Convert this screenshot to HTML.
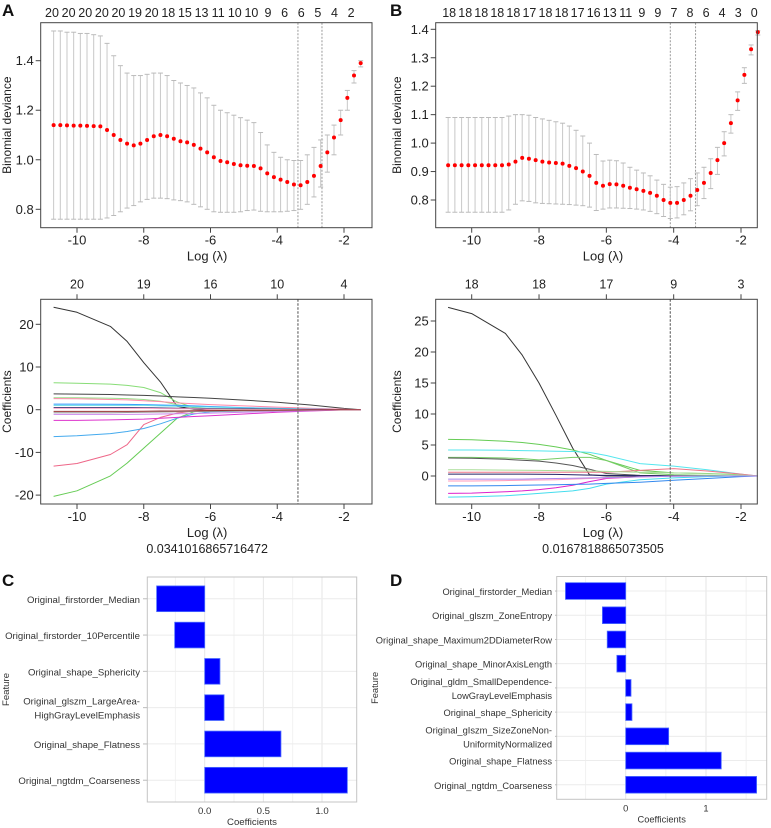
<!DOCTYPE html>
<html><head><meta charset="utf-8">
<style>
html,body{margin:0;padding:0;background:#fff;}
svg{display:block;font-family:"Liberation Sans","DejaVu Sans",sans-serif;}
</style></head>
<body>
<svg id="fig" width="771" height="828" viewBox="0 0 771 828" xmlns="http://www.w3.org/2000/svg"></svg>
<script>
// ---------- DATA ----------
const devStart = -10.7, devStep = 0.2;
const devMeanA = [1.14,1.14,1.139,1.138,1.138,1.137,1.136,1.135,1.12,1.10,1.08,1.065,1.058,1.065,1.08,1.095,1.10,1.095,1.085,1.075,1.07,1.06,1.045,1.03,1.01,0.995,0.99,0.983,0.978,0.976,0.975,0.965,0.945,0.93,0.92,0.91,0.90,0.897,0.91,0.935,0.975,1.03,1.09,1.16,1.25,1.34,1.39];
const devUpperA = [1.52,1.52,1.515,1.515,1.51,1.51,1.505,1.50,1.47,1.42,1.38,1.35,1.34,1.34,1.345,1.35,1.35,1.34,1.32,1.31,1.30,1.29,1.27,1.25,1.22,1.20,1.19,1.18,1.17,1.16,1.15,1.11,1.06,1.03,1.01,1.00,0.997,0.997,1.02,1.05,1.08,1.10,1.14,1.20,1.28,1.36,1.40];
const devLowerA = [0.76,0.76,0.76,0.76,0.76,0.76,0.76,0.76,0.765,0.775,0.79,0.805,0.815,0.83,0.84,0.845,0.845,0.843,0.838,0.835,0.83,0.82,0.81,0.80,0.79,0.788,0.788,0.788,0.79,0.795,0.797,0.792,0.79,0.79,0.79,0.792,0.795,0.80,0.82,0.85,0.89,0.95,1.02,1.10,1.20,1.31,1.375];
const devMeanB = [0.922,0.922,0.922,0.922,0.922,0.922,0.922,0.922,0.922,0.925,0.935,0.948,0.945,0.94,0.935,0.932,0.93,0.928,0.92,0.912,0.90,0.885,0.86,0.85,0.856,0.855,0.85,0.843,0.838,0.832,0.825,0.815,0.80,0.79,0.79,0.80,0.815,0.835,0.86,0.895,0.94,1.0,1.07,1.15,1.24,1.33,1.39];
const devUpperB = [1.09,1.09,1.09,1.09,1.09,1.09,1.09,1.09,1.09,1.095,1.10,1.10,1.098,1.09,1.085,1.08,1.075,1.07,1.06,1.045,1.025,1.0,0.96,0.937,0.94,0.938,0.93,0.915,0.905,0.895,0.885,0.87,0.855,0.845,0.847,0.86,0.875,0.895,0.915,0.945,0.985,1.04,1.10,1.18,1.265,1.345,1.395];
const devLowerB = [0.757,0.757,0.757,0.757,0.757,0.757,0.757,0.757,0.757,0.765,0.785,0.797,0.795,0.79,0.788,0.787,0.786,0.785,0.784,0.782,0.78,0.775,0.763,0.768,0.772,0.772,0.771,0.77,0.768,0.765,0.76,0.752,0.742,0.735,0.737,0.748,0.762,0.78,0.805,0.84,0.89,0.955,1.035,1.115,1.21,1.31,1.38];
const countsA = ["20","20","20","20","20","19","20","18","15","13","11","10","10","9","6","6","5","4","2"];
const countsB = ["18","18","18","18","18","17","18","18","17","16","13","11","9","9","7","8","6","4","3","0"];
const pathTopA = ["20","19","16","10","4"];
const pathTopB = ["18","18","17","9","3"];
const lambdaTextA = "0.0341016865716472";
const lambdaTextB = "0.0167818865073505";
const knots = [-10.7,-10,-9,-8.5,-8,-7.5,-7,-6.5,-6,-5,-4,-3,-2,-1.5];
const pathColorsA = ["#333333","#66cc55","#ee6688","#44aaee","#88dd77","#444444","#99dd88","#ff88aa","#3399ff","#66e0e8","#222266","#dd33cc","#cc88ee","#999999","#ffaacc","#993333"];
const pathValsA = [
 [24,22.8,19.5,16,11,6.5,0.8,0.1,0,0,0,0,0,0],
 [-20.3,-19,-15.5,-12.5,-9,-5.5,-2,-0.5,0,0,0,0,0,0],
 [-13.2,-12.6,-10.5,-8.2,-3.5,-1.8,-0.8,-0.3,0,0,0,0,0,0],
 [-6.3,-6.1,-5.6,-5.1,-4.4,-3.3,-2,-1,-0.5,-0.3,-0.15,-0.05,0,0],
 [6.3,6.2,6.0,5.7,5.2,4.0,1.8,0.5,0.1,0,0,0,0,0],
 [3.7,3.65,3.55,3.45,3.35,3.2,3.0,2.85,2.7,2.25,1.75,1.1,0.3,0],
 [2.8,2.8,2.7,2.6,2.4,2.0,1.2,0.5,0.2,0.1,0,0,0,0],
 [2.6,2.55,2.4,2.3,2.1,1.9,1.6,1.4,1.2,0.9,0.6,0.35,0.1,0],
 [1.3,1.3,1.28,1.25,1.2,1.1,1.0,0.9,0.75,0.5,0.3,0.15,0.03,0],
 [1.0,1.0,1.0,1.0,1.0,0.9,0.8,0.7,0.6,0.4,0.25,0.1,0.02,0],
 [0.5,0.5,0.5,0.5,0.45,0.4,0.35,0.3,0.25,0.2,0.12,0.05,0.02,0],
 [-2.5,-2.5,-2.4,-2.3,-2.2,-2.0,-1.8,-1.6,-1.4,-1.0,-0.6,-0.3,-0.05,0],
 [-1.1,-1.1,-1.1,-1.1,-1.05,-1.0,-0.95,-0.9,-0.8,-0.6,-0.4,-0.2,-0.05,0],
 [-0.7,-0.7,-0.7,-0.65,-0.6,-0.55,-0.5,-0.45,-0.4,-0.3,-0.2,-0.1,0,0],
 [0.3,0.3,0.3,0.3,0.3,0.25,0.2,0.2,0.15,0.1,0.05,0,0,0],
 [-0.4,-0.4,-0.4,-0.4,-0.35,-0.3,-0.3,-0.25,-0.2,-0.15,-0.1,-0.05,0,0]
];
const pathColorsB = ["#333333","#66cc55","#55e6ee","#77cc66","#555555","#ee7788","#aadd99","#dd22cc","#44ddee","#3388ee","#222266","#ff99bb","#aa88ee"];
const pathValsB = [
 [27.2,26.2,23,19.5,15,9.8,4.5,0.2,0,0,0,0,0,0],
 [5.9,5.85,5.6,5.4,5.1,4.7,4.2,3.5,2.5,0.9,0.5,0.4,0.2,0],
 [4.2,4.2,4.15,4.1,4.05,4.0,3.95,3.8,3.3,2.0,1.6,1.0,0.3,0],
 [3.0,3.0,2.9,2.8,2.6,2.8,3.0,3.0,2.5,0.5,0.2,0.1,0,0],
 [2.9,2.85,2.7,2.55,2.4,2.1,1.7,1.1,0.4,0.1,0.05,0,0,0],
 [0.6,0.6,0.6,0.6,0.6,0.6,0.6,0.6,0.6,0.9,1.2,0.8,0.3,0],
 [1.0,1.0,0.95,0.92,0.9,0.87,0.83,0.8,0.75,0.6,0.5,0.35,0.15,0],
 [-2.8,-2.75,-2.55,-2.4,-2.2,-1.9,-1.5,-0.9,-0.4,-0.1,0,0,0,0],
 [-3.4,-3.35,-3.2,-3.0,-2.8,-2.6,-2.4,-2.0,-1.3,-0.6,-0.3,-0.1,0,0],
 [-1.6,-1.6,-1.55,-1.5,-1.45,-1.4,-1.35,-1.3,-1.2,-1.0,-0.7,-0.4,-0.1,0],
 [0.3,0.3,0.3,0.3,0.28,0.25,0.2,0.15,0.1,0.05,0.02,0,0,0],
 [-0.8,-0.8,-0.75,-0.7,-0.65,-0.6,-0.5,-0.4,-0.3,-0.15,-0.05,0,0,0],
 [-0.5,-0.5,-0.5,-0.5,-0.45,-0.4,-0.35,-0.3,-0.25,-0.15,-0.05,0,0,0]
];
const featuresC = ["Original_firstorder_Median","Original_firstorder_10Percentile","Original_shape_Sphericity","Original_glszm_LargeArea-|HighGrayLevelEmphasis","Original_shape_Flatness","Original_ngtdm_Coarseness"];
const coefC = [-0.41,-0.256,0.13,0.165,0.65,1.216];
const ticksC = ["0.0","0.5","1.0"];
const tickValsC = [0,0.5,1.0];
const featuresD = ["Original_firstorder_Median","Original_glszm_ZoneEntropy","Original_shape_Maximum2DDiameterRow","Original_shape_MinorAxisLength","Original_gldm_SmallDependence-|LowGrayLevelEmphasis","Original_shape_Sphericity","Original_gIszm_SizeZoneNon-|UniformityNormalized","Original_shape_Flatness","Original_ngtdm_Coarseness"];
const coefD = [-0.75,-0.29,-0.23,-0.11,0.066,0.078,0.535,1.19,1.63];
const ticksD = ["0","1"];
const tickValsD = [0,1];

// ---------- HELPERS ----------
const NS = "http://www.w3.org/2000/svg";
const svg = document.getElementById('fig');
function mk(tag, attrs, parent){ const e=document.createElementNS(NS,tag); for(const k in attrs) e.setAttribute(k,attrs[k]); (parent||svg).appendChild(e); return e; }
function txt(str, x, y, size, anchor, parent, extra){ const t=mk('text',Object.assign({x:x,y:y,'font-size':size,'text-anchor':anchor||'middle',fill:'#222'},extra||{}),parent); t.textContent=str; return t; }
function lin(a0,a1,p0,p1){ return v => p0 + (v-a0)*(p1-p0)/(a1-a0); }
const logTicks = [-10,-8,-6,-4,-2];

function frame(g, L, R, T, B){ mk('rect',{x:L,y:T,width:R-L,height:B-T,fill:'none',stroke:'#444','stroke-width':1},g); }
function xAxisBottom(g, X, B, label){
  logTicks.forEach(v=>{ mk('line',{x1:X(v),x2:X(v),y1:B,y2:B+5,stroke:'#444'},g);
    const t=txt(String(v),X(v),B+17,13,'middle',g);
      });
  const l=txt(label,(X(-10.7)+X(-1.5))/2,B+33,13,'middle',g);
   
}

// ---------- DEVIANCE PANELS ----------
function devPanel(name, L, R, T, B, X, Y, yTicks, yFmt, mean, upper, lower, counts, cStart, cStep, vlines, labelX, letter, letterX){
  const g=mk('g',{});
  
  
  const lt=txt(letter,letterX,16,17,'start',g,{'font-weight':'bold',fill:'#111'});
   
  vlines.forEach(v=>{ const l=mk('line',{x1:X(v),x2:X(v),y1:T,y2:B,stroke:'#999','stroke-dasharray':'2,1.5','stroke-width':1},g);
      });
  const eg=mk('g',{},g);  
  mean.forEach((m,i)=>{ const x=X(devStart+devStep*i);
    mk('line',{x1:x,x2:x,y1:Y(upper[i]),y2:Y(lower[i]),stroke:'#c8c8c8','stroke-width':1},eg);
    mk('line',{x1:x-2.5,x2:x+2.5,y1:Y(upper[i]),y2:Y(upper[i]),stroke:'#bbb','stroke-width':1},eg);
    mk('line',{x1:x-2.5,x2:x+2.5,y1:Y(lower[i]),y2:Y(lower[i]),stroke:'#bbb','stroke-width':1},eg);
  });
  const pg=mk('g',{},g);  
  mean.forEach((m,i)=>{ const c=mk('circle',{cx:X(devStart+devStep*i),cy:Y(m),r:2,fill:'#ff0000'},pg);
      });
  frame(g,L,R,T,B);
  yTicks.forEach(v=>{ mk('line',{x1:L-5,x2:L,y1:Y(v),y2:Y(v),stroke:'#444'},g);
    const t=txt(yFmt(v),L-7,Y(v)+4.5,13,'end',g);   });
  counts.forEach((c,i)=>{ const t=txt(c,X(cStart+cStep*i),17,12.5,'middle',g);
      });
  xAxisBottom(g,X,B,'Log (λ)');
  const yt=txt('Binomial deviance',0,0,12,'middle',g,{transform:`translate(${labelX},${(T+B)/2}) rotate(-90)`});
   
}
const XA = lin(-10,-2,77,344);
devPanel('deviance-panel-a',40.7,372,22.7,227.7,XA,lin(0.8,1.4,209.3,60.7),[0.8,1.0,1.2,1.4],v=>v.toFixed(1),devMeanA,devUpperA,devLowerA,countsA,-10.75,0.498,[-3.38,-2.66],11,'A',2);
const XB = lin(-10,-2,471.7,741);
devPanel('deviance-panel-b',435.7,757.3,22.7,227.7,XB,lin(0.8,1.4,200,29.3),[0.8,0.9,1.0,1.1,1.2,1.3,1.4],v=>v.toFixed(1),devMeanB,devUpperB,devLowerB,countsB,-10.67,0.477,[-4.1,-3.35],401,'B',390);

// ---------- COEFFICIENT PATH PANELS ----------
function pathPanel(name, L, R, T, B, X, Y, yTicks, vals, colors, top, vline, labelX, lamText){
  const g=mk('g',{});
  
  
  vals.forEach((arr,j)=>{ const pts=arr.map((v,k)=>X(knots[k]).toFixed(1)+','+Y(v).toFixed(1)).join(' ');
    const p=mk('polyline',{points:pts,fill:'none',stroke:colors[j%colors.length],'stroke-width':1,'stroke-linejoin':'round'},g);
      });
  const vl=mk('line',{x1:X(vline),x2:X(vline),y1:T,y2:B,stroke:'#777','stroke-dasharray':'2.5,1.5','stroke-width':1.3},g);
   
  frame(g,L,R,T,B);
  yTicks.forEach(v=>{ mk('line',{x1:L-5,x2:L,y1:Y(v),y2:Y(v),stroke:'#444'},g);
    const t=txt(String(v),L-7,Y(v)+4.5,13,'end',g);   });
  logTicks.forEach((v,i)=>{ mk('line',{x1:X(v),x2:X(v),y1:T-5,y2:T,stroke:'#444'},g);
    const t=txt(top[i],X(v),T-11,12.5,'middle',g);   });
  xAxisBottom(g,X,B,'Log (λ)');
  const lt=txt(lamText,(X(-10.7)+X(-1.5))/2,B+49,12.5,'middle',g);
   
  const yt=txt('Coefficients',0,0,12,'middle',g,{transform:`translate(${labelX},${(T+B)/2}) rotate(-90)`});
   
}
pathPanel('coef-path-panel-a',40.7,372,299.3,504,XA,lin(0,20,409.7,324.3),[-20,-10,0,10,20],pathValsA,pathColorsA,pathTopA,-3.38,11,lambdaTextA);
pathPanel('coef-path-panel-b',435.7,757.3,299.3,504,XB,lin(0,25,476,321),[0,5,10,15,20,25],pathValsB,pathColorsB,pathTopB,-4.1,401,lambdaTextB);

// ---------- BAR PANELS ----------
function barPanel(name, L, R, T, B, X, feats, coefs, tickLabels, tickVals, minor, labelR, featX, letter, letterX, barH, fs){
  const g=mk('g',{});
  
  
  const n=feats.length, step=(B-T)/(n+0.2);
  const cy=i=>T+step*(0.6+i);
  minor.forEach(v=>mk('line',{x1:X(v),x2:X(v),y1:T,y2:B,stroke:'#f2f2f2','stroke-width':1},g));
  tickVals.forEach(v=>mk('line',{x1:X(v),x2:X(v),y1:T,y2:B,stroke:'#e6e6e6','stroke-width':1},g));
  feats.forEach((f,i)=>mk('line',{x1:L,x2:R,y1:cy(i),y2:cy(i),stroke:'#ececec','stroke-width':1},g));
  coefs.forEach((c,i)=>{ const x0=Math.min(X(0),X(c)), w=Math.abs(X(c)-X(0));
    const r=mk('rect',{x:x0,y:cy(i)-barH/2,width:w,height:barH,fill:'#0000ff',stroke:'#4d6dff','stroke-width':0.8},g);
      });
  mk('rect',{x:L,y:T,width:R-L,height:B-T,fill:'none',stroke:'#c4c4c4','stroke-width':1},g);
  feats.forEach((f,i)=>{ const parts=f.split('|');
    parts.forEach((p,k)=>{ const t=txt(p,labelR,cy(i)+4+(k-(parts.length-1)/2)*14,fs,'end',g,{fill:'#333'});
        });
    mk('line',{x1:labelR+3,x2:L,y1:cy(i),y2:cy(i),stroke:'#bbb'},g); });
  tickVals.forEach((v,i)=>{ const t=txt(tickLabels[i],X(v),B+12,fs,'middle',g,{fill:'#333'});
      });
  const xt=txt('Coefficients',(L+R)/2,B+23,fs,'middle',g,{fill:'#333'});
   
  const yt=txt('Feature',0,0,fs,'middle',g,{fill:'#333',transform:`translate(${featX},${(T+B)/2}) rotate(-90)`});
   
  const lt=txt(letter,letterX,586,17,'start',g,{'font-weight':'bold',fill:'#111'});
   
}
barPanel('feature-bar-panel-c',147.3,356.7,577,802,lin(0,1,204.7,322),featuresC,coefC,ticksC,tickValsC,[-0.25,0.25,0.75],140,9,'C',2,25.7,9.6);
barPanel('feature-bar-panel-d',556.7,766.7,576.5,799.3,lin(0,1,625.7,706),featuresD,coefD,ticksD,tickValsD,[-0.5,0.5,1.5],552,378,'D',390,16.7,9.3);
</script>
</body></html>
